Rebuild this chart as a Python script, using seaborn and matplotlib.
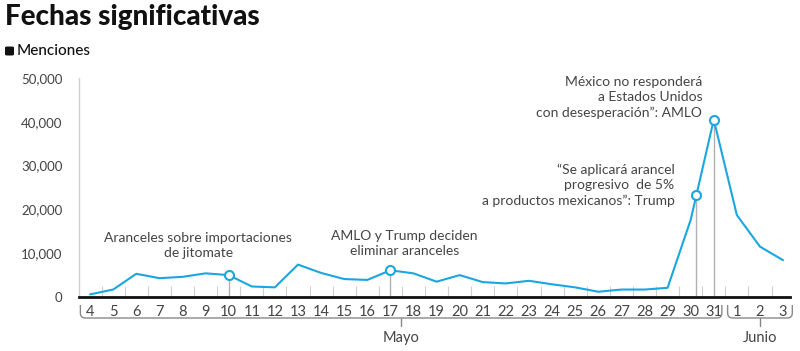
import numpy as np
import pandas as pd
import matplotlib
matplotlib.use("Agg")
import matplotlib.pyplot as plt
import seaborn as sns
from matplotlib.path import Path
from matplotlib.patches import PathPatch, FancyBboxPatch
from matplotlib.transforms import IdentityTransform

# ---------------- data ----------------
day_labels = ['4', '5', '6', '7', '8', '9', '10', '11', '12', '13', '14', '15', '16',
              '17', '18', '19', '20', '21', '22', '23', '24', '25', '26', '27', '28',
              '29', '30', '31', '1', '2', '3']
mentions = [600, 1700, 5300, 4300, 4600, 5400, 5000, 2400, 2200, 7400, 5500, 4100, 3900,
            6100, 5400, 3500, 5000, 3400, 3100, 3700, 2900, 2200, 1200, 1700, 1700,
            2100, 17600, 40500, 18700, 11500, 8400]
months = ['Mayo', 'Junio']
month_first_idx = [0, 28]
month_last_idx = [27, 30]
y_ticks = [0, 10000, 20000, 30000, 40000, 50000]
y_tick_labels = ['0', '10,000', '20,000', '30,000', '40,000', '50,000']

# events (position along the day axis)
event_pos = [6, 13, 26.25, 27]
event_texts = ["Aranceles sobre importaciones\nde jitomate",
               "AMLO y Trump deciden\neliminar aranceles",
               "\u201cSe aplicar\u00e1 arancel\nprogresivo  de 5%\na productos mexicanos\u201d: Trump",
               "M\u00e9xico no responder\u00e1\na Estados Unidos\ncon desesperaci\u00f3n\u201d: AMLO"]

# --------------- styling ---------------
sns.set_theme(style="white")
plt.rcParams['font.family'] = ['Lato', 'DejaVu Sans']
BLUE = '#1AA6DF'
GRAY = '#B0B0B0'
TXT = '#444444'

W, H = 800, 351
fig = plt.figure(figsize=(W / 100, H / 100), dpi=100)
ax = fig.add_axes([79 / W, 1 - 297 / H, (790 - 79) / W, (297 - 78) / H])

idx = np.arange(len(day_labels))
df = pd.DataFrame({'i': idx, 'menciones': mentions})
sns.lineplot(data=df, x='i', y='menciones', ax=ax, color=BLUE, linewidth=1.5)

ax.set_xlim(-0.48, 30.3)
ax.set_ylim(0, 50000)
ax.set_xlabel('')
ax.set_ylabel('')

# y axis
ax.set_yticks(y_ticks)
ax.set_yticklabels(y_tick_labels)
ax.tick_params(axis='y', direction='in', length=17, width=1, color='#d0d0d0',
               pad=12, labelsize=9.5, labelcolor=TXT)
# x axis
ax.set_xticks(idx)
ax.set_xticklabels(day_labels)
ax.set_xticks(idx[:-1] + 0.5, minor=True)
ax.tick_params(axis='x', which='major', length=0, pad=6, labelsize=10.5, labelcolor=TXT)
ax.tick_params(axis='x', which='minor', direction='in', length=8, width=0.8,
               color='#d0d0d0', bottom=True)

for s in ['top', 'right']:
    ax.spines[s].set_visible(False)
ax.spines['left'].set_color('#d0d0d0')
ax.spines['left'].set_linewidth(1)
ax.spines['bottom'].set_color('#111111')
ax.spines['bottom'].set_linewidth(2)
ax.spines['bottom'].set_zorder(5)

# events: vertical guide + circle
ev_y = np.interp(event_pos, idx, mentions)
for xp, yp in zip(event_pos, ev_y):
    ax.plot([xp, xp], [0, yp], color=GRAY, lw=1, zorder=1)
ax.scatter(event_pos, ev_y, s=42, facecolor='white', edgecolor=BLUE, linewidth=1.5, zorder=4)

# event labels
txt_kw = dict(fontsize=10, color=TXT, linespacing=1.3)
ax.text(4.68, 8700, event_texts[0], ha='center', va='bottom', multialignment='center', **txt_kw)
ax.text(13.6, 9200, event_texts[1], ha='center', va='bottom', multialignment='center', **txt_kw)
ax.text(25.3, 20600, event_texts[2], ha='right', va='bottom', multialignment='right', **txt_kw)
ax.text(26.5, 40700, event_texts[3], ha='right', va='bottom', multialignment='right', **txt_kw)

# month brackets (in pixel space)
fig.canvas.draw()
def xpx(v):
    return ax.transData.transform((v, 0))[0]

ytop, ybot, r = H - 305, H - 318, 5
for m, a, b in zip(months, month_first_idx, month_last_idx):
    x0 = xpx(a - 0.42) if a == 0 else xpx(a - 0.4)
    x1 = xpx(b + 0.35) if b != len(day_labels) - 1 else xpx(b + 0.4)
    verts = [(x0, ytop), (x0, ybot + r), (x0, ybot), (x0 + r, ybot),
             (x1 - r, ybot), (x1, ybot), (x1, ybot + r), (x1, ytop)]
    codes = [Path.MOVETO, Path.LINETO, Path.CURVE3, Path.CURVE3,
             Path.LINETO, Path.CURVE3, Path.CURVE3, Path.LINETO]
    fig.add_artist(PathPatch(Path(verts, codes), transform=IdentityTransform(),
                             fill=False, edgecolor='#888888', lw=1))
    xm = (x0 + x1) / 2
    fig.add_artist(plt.Line2D([xm, xm], [ybot, ybot - 8], transform=IdentityTransform(),
                              color='#888888', lw=1))
    fig.text(xm / W, (H - 338) / H, m, ha='center', va='center', fontsize=10.5,
             color=TXT)

# title & subtitle
fig.text(5 / W, 1 - 17 / H, 'Fechas significativas', ha='left', va='center',
         fontsize=20, fontweight='black', color='#111111')
fig.add_artist(FancyBboxPatch((5 / W, 1 - 55.5 / H), 9 / W, 9 / H,
                              boxstyle='round,pad=0,rounding_size=0.003',
                              transform=fig.transFigure, facecolor='#111111', edgecolor='none'))
fig.text(17 / W, 1 - 51 / H, 'Menciones', ha='left', va='center', fontsize=11,
         fontweight='medium', color='#111111')

fig.savefig('out.png', dpi=100)
